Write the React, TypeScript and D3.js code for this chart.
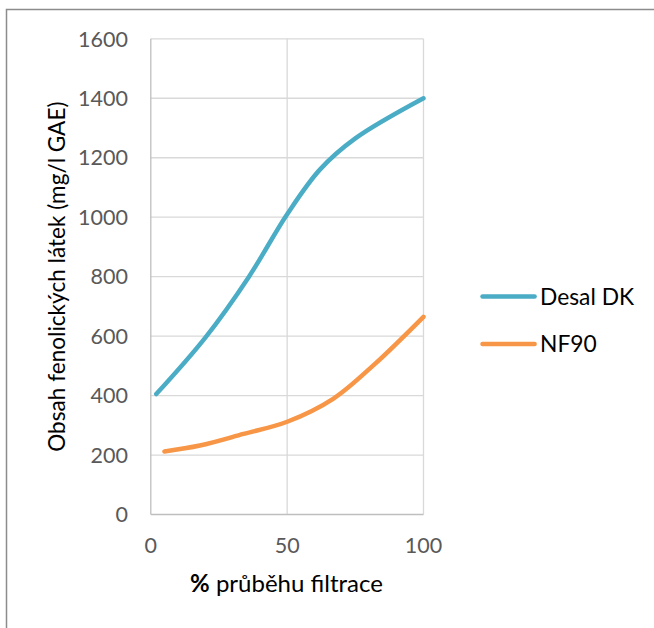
import { useRef, useEffect } from "react";
import * as d3 from "d3";

const desalX = [2, 20, 36, 50, 62, 75, 100];
const desalY = [405, 595, 800, 1010, 1160, 1265, 1400];
const nf90X = [5, 18, 34, 50, 67, 82, 100];
const nf90Y = [212, 232, 271, 312, 390, 505, 665];
const yTicks = [0, 200, 400, 600, 800, 1000, 1200, 1400, 1600];
const xTicks = [0, 50, 100];
const seriesNames = ["Desal DK", "NF90"];
const seriesColors = ["#4bacc6", "#f79646"];

const FONT = "Lato, 'Open Sans', sans-serif";

const App = () => {
  const svgRef = useRef<SVGSVGElement | null>(null);

  useEffect(() => {
    const svg = d3.select(svgRef.current);
    svg.selectAll("*").remove();

    const width = 654;
    const height = 628;

    const x = d3.scaleLinear().domain([0, 100]).range([150.8, 423.5]);
    const y = d3.scaleLinear().domain([0, 1600]).range([514.5, 38.8]);

    // background + outer frame
    svg.append("rect").attr("width", width).attr("height", height).attr("fill", "#fff");
    svg
      .append("rect")
      .attr("x", 6.5)
      .attr("y", 9.5)
      .attr("width", width + 20)
      .attr("height", height + 20)
      .attr("fill", "none")
      .attr("stroke", "#8c8c8c")
      .attr("stroke-width", 1.5);

    // horizontal gridlines
    svg
      .append("g")
      .selectAll("line")
      .data(yTicks.slice(1))
      .join("line")
      .attr("x1", x(0))
      .attr("x2", x(100))
      .attr("y1", (d) => y(d))
      .attr("y2", (d) => y(d))
      .attr("stroke", "#d9d9d9")
      .attr("stroke-width", 1.3);

    // vertical gridlines
    svg
      .append("g")
      .selectAll("line")
      .data(xTicks.slice(1))
      .join("line")
      .attr("x1", (d) => x(d))
      .attr("x2", (d) => x(d))
      .attr("y1", y(0))
      .attr("y2", y(1600))
      .attr("stroke", "#d9d9d9")
      .attr("stroke-width", 1.3);

    // axis lines
    svg
      .append("line")
      .attr("x1", x(0))
      .attr("x2", x(100))
      .attr("y1", y(0))
      .attr("y2", y(0))
      .attr("stroke", "#bfbfbf")
      .attr("stroke-width", 1.3);
    svg
      .append("line")
      .attr("x1", x(0))
      .attr("x2", x(0))
      .attr("y1", y(0))
      .attr("y2", y(1600))
      .attr("stroke", "#bfbfbf")
      .attr("stroke-width", 1.3);

    // tick labels
    svg
      .append("g")
      .selectAll("text")
      .data(yTicks)
      .join("text")
      .attr("x", 128)
      .attr("y", (d) => y(d))
      .attr("dy", "0.36em")
      .attr("text-anchor", "end")
      .attr("font-family", FONT)
      .attr("font-size", 21.5)
      .attr("fill", "#595959")
      .text((d) => d);

    svg
      .append("g")
      .selectAll("text")
      .data(xTicks)
      .join("text")
      .attr("x", (d) => x(d))
      .attr("y", 545)
      .attr("dy", "0.36em")
      .attr("text-anchor", "middle")
      .attr("font-family", FONT)
      .attr("font-size", 21.5)
      .attr("fill", "#595959")
      .text((d) => d);

    // axis titles
    svg
      .append("text")
      .attr("transform", `translate(57,${(y(0) + y(1600)) / 2}) rotate(-90)`)
      .attr("dy", "0.36em")
      .attr("text-anchor", "middle")
      .attr("font-family", FONT)
      .attr("font-size", 22.6)
      .attr("fill", "#000")
      .text("Obsah fenolických látek (mg/l GAE)");

    const xt = svg
      .append("text")
      .attr("x", 286.5)
      .attr("y", 583)
      .attr("dy", "0.36em")
      .attr("text-anchor", "middle")
      .attr("font-family", FONT)
      .attr("font-size", 24)
      .attr("fill", "#000");
    xt.append("tspan").attr("font-weight", "bold").text("%");
    xt.append("tspan").text(" průběhu filtrace");

    // lines
    const series = [
      { xs: desalX, ys: desalY },
      { xs: nf90X, ys: nf90Y },
    ];
    const line = d3
      .line<[number, number]>()
      .x((d) => x(d[0]))
      .y((d) => y(d[1]))
      .curve(d3.curveCatmullRom.alpha(0.5));

    series.forEach((s, i) => {
      const pts = s.xs.map((v, j) => [v, s.ys[j]] as [number, number]);
      svg
        .append("path")
        .attr("d", line(pts))
        .attr("fill", "none")
        .attr("stroke", seriesColors[i])
        .attr("stroke-width", 4.5)
        .attr("stroke-linecap", "round")
        .attr("stroke-linejoin", "round");
    });

    // legend
    const legend = svg.append("g");
    seriesNames.forEach((name, i) => {
      const ly = 296.6 + i * 47.4;
      legend
        .append("line")
        .attr("x1", 482.5)
        .attr("x2", 534.6)
        .attr("y1", ly)
        .attr("y2", ly)
        .attr("stroke", seriesColors[i])
        .attr("stroke-width", 4.5)
        .attr("stroke-linecap", "round");
      legend
        .append("text")
        .attr("x", 540)
        .attr("y", ly)
        .attr("dy", "0.36em")
        .attr("font-family", FONT)
        .attr("font-size", 22.8)
        .attr("fill", "#000")
        .text(name);
    });
  }, []);

  return (
    <div style={{ position: "absolute", left: 0, top: 0 }}>
      <svg ref={svgRef} width="654" height="628" style={{ display: "block" }} />
    </div>
  );
};

export default App;
